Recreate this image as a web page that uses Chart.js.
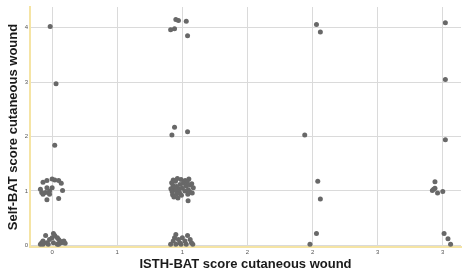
<!DOCTYPE html>
<html lang="en">
<head>
    <meta charset="UTF-8">
    <title>Self-BAT vs ISTH-BAT - cutaneous wound</title>
    <script src="https://cdn.jsdelivr.net/npm/chart.js"></script>
    <style>
        html, body { margin: 0; padding: 0; background: #fff; }
        canvas { display: block; }
    </style>
</head>
<body>
    <canvas id="woundChart" width="465" height="272"></canvas>

    <script>
        // jittered scores, one entry per patient (x = ISTH-BAT, y = Self-BAT)
        const isthScores = [
            // ISTH 0
            -0.015, 0.03, 0.02,
            -0.09, -0.08, -0.07, -0.04, 0.0, 0.02, 0.05, 0.07, 0.08, 0.05, -0.04, -0.07, -0.04, -0.02, 0.0, -0.02, -0.05,
            -0.09, -0.08, -0.07, -0.05, -0.04, -0.02, 0.0, 0.01, 0.02, 0.04, 0.05, 0.06, 0.07, 0.09, -0.03, 0.01, 0.04, -0.07, 0.05, 0.1,
            // ISTH 1
            0.95, 0.97, 1.03, 0.91, 0.94, 1.04,
            0.94, 0.92, 1.04,
            0.93, 0.962, 0.99, 1.022, 1.05,
            0.918, 0.947, 1.008, 1.038, 1.072,
            0.928, 0.955, 0.982, 1.03, 1.06,
            0.912, 0.938, 0.972, 1.0, 1.046, 1.084,
            0.921, 0.95, 0.978, 1.02, 1.058,
            0.925, 0.958, 0.993, 1.042, 1.076,
            0.935, 0.966, 1.044,
            0.95, 0.94, 0.93, 0.91, 0.97, 0.98, 1.0, 1.02, 1.03, 1.04, 1.06, 1.07, 1.08, 0.99, 0.95,
            // ISTH 2
            1.94, 2.03, 2.06, 2.04, 2.06, 2.03, 1.98,
            // ISTH 3
            3.02, 3.02, 3.02, 2.94, 2.92, 2.94, 2.96, 3.0, 2.93, 3.01, 3.04, 3.06
        ];
        const selfScores = [
            // ISTH 0
            4.02, 2.97, 1.84,
            1.03, 0.97, 1.16, 1.19, 1.22, 1.2, 1.19, 1.14, 1.01, 0.86, 0.84, 0.94, 1.06, 1.0, 1.06, 0.94, 0.97,
            0.02, 0.05, 0.08, 0.18, 0.05, 0.11, 0.14, 0.22, 0.18, 0.14, 0.11, 0.08, 0.05, 0.08, 0.02, 0.05, 0.02, 0.02, 0.02, 0.04,
            // ISTH 1
            4.15, 4.13, 4.12, 3.96, 3.98, 3.85,
            2.17, 2.03, 2.09,
            1.2, 1.23, 1.21, 1.19, 1.22,
            1.15, 1.18, 1.14, 1.17, 1.13,
            1.1, 1.08, 1.12, 1.09, 1.11,
            1.04, 1.06, 1.03, 1.05, 1.02, 1.06,
            0.99, 1.01, 0.97, 1.0, 0.98,
            0.93, 0.95, 0.92, 0.94, 0.96,
            0.89, 0.87, 0.82,
            0.2, 0.14, 0.08, 0.02, 0.11, 0.05, 0.14, 0.08, 0.02, 0.18, 0.11, 0.05, 0.02, 0.02, 0.02,
            // ISTH 2
            2.03, 4.06, 3.92, 1.18, 0.85, 0.22, 0.02,
            // ISTH 3
            4.09, 3.05, 1.94, 1.17, 1.01, 1.05, 0.96, 0.99, 1.03, 0.22, 0.12, 0.02
        ];

        const xTickValues = [0, 0.5, 1, 1.5, 2, 2.5, 3];
        const xTickLabels = ['0', '1', '1', '2', '2', '3', '3'];
        const yTickValues = [0, 1, 2, 3, 4];
        const yTickLabels = ['0', '1', '2', '3', '4'];

        const points = isthScores.map((x, i) => ({ x: x, y: selfScores[i] }));

        const titleFont = { family: 'Liberation Sans', size: 13, weight: 'bold' };
        const tickFont = { family: 'Liberation Sans', size: 6 };
        const axisYellow = '#f5e4a4';
        const gridGrey = '#dadada';

        new Chart(document.getElementById('woundChart'), {
            type: 'scatter',
            data: {
                datasets: [{
                    label: 'Patients',
                    data: points,
                    pointRadius: 2.5,
                    pointBackgroundColor: '#686868',
                    pointBorderWidth: 0
                }]
            },
            options: {
                responsive: false,
                animation: false,
                layout: { padding: { top: 7, right: 1, left: 0, bottom: 0 } },
                plugins: { legend: { display: false }, tooltip: { enabled: false } },
                scales: {
                    x: {
                        type: 'linear',
                        min: -0.17,
                        max: 3.14,
                        afterBuildTicks: scale => { scale.ticks = xTickValues.map(v => ({ value: v })); },
                        afterFit: scale => { scale.height = 25; },
                        ticks: {
                            font: tickFont,
                            color: '#555',
                            padding: 2,
                            maxRotation: 0,
                            callback: (v, i) => xTickLabels[i]
                        },
                        grid: { color: gridGrey, lineWidth: 1, drawTicks: false },
                        border: { color: axisYellow, width: 2 },
                        title: {
                            display: true,
                            text: 'ISTH-BAT score cutaneous wound',
                            font: titleFont,
                            color: '#1a1a1a',
                            padding: 0
                        }
                    },
                    y: {
                        type: 'linear',
                        min: -0.03,
                        max: 4.38,
                        afterBuildTicks: scale => { scale.ticks = yTickValues.map(v => ({ value: v })); },
                        afterFit: scale => { scale.width = 30; },
                        ticks: {
                            font: tickFont,
                            color: '#555',
                            padding: 2,
                            callback: (v, i) => yTickLabels[i]
                        },
                        grid: { color: gridGrey, lineWidth: 1, drawTicks: false },
                        border: { color: axisYellow, width: 2 },
                        title: {
                            display: true,
                            text: 'Self-BAT score cutaneous wound',
                            font: titleFont,
                            color: '#1a1a1a',
                            padding: { top: 6, bottom: 0 }
                        }
                    }
                }
            }
        });
    </script>
</body>
</html>
